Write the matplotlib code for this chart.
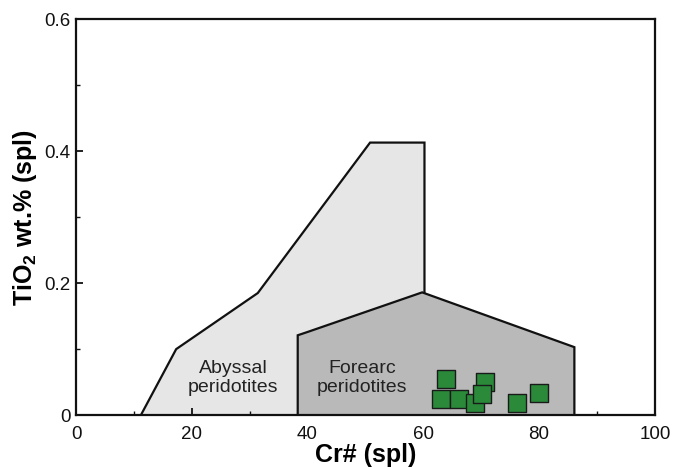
import matplotlib
matplotlib.use("Agg")
import matplotlib.pyplot as plt
from matplotlib.patches import Polygon
from matplotlib.ticker import FixedLocator

plt.rcParams['font.family'] = ['Liberation Sans', 'DejaVu Sans']
plt.rcParams['mathtext.fontset'] = 'custom'
plt.rcParams['mathtext.rm'] = 'Liberation Sans'
plt.rcParams['mathtext.bf'] = 'Liberation Sans:bold'

# Field outlines (Cr#, TiO2)
abyssal_cr = [11.2, 17.3, 31.4, 50.8, 60.2, 60.2, 60.2]
abyssal_ti = [0.0, 0.100, 0.185, 0.413, 0.413, 0.185, 0.0]
forearc_cr = [38.3, 38.3, 40.0, 59.8, 86.1, 86.1]
forearc_ti = [0.0, 0.121, 0.126, 0.186, 0.103, 0.0]

# Samples
sample_cr = [64.0, 63.0, 66.1, 68.9, 70.7, 70.1, 76.1, 80.0]
sample_ti = [0.054, 0.024, 0.024, 0.019, 0.050, 0.032, 0.019, 0.034]

# Ticks
x_ticks = [0, 20, 40, 60, 80, 100]
x_tick_labels = ['0', '20', '40', '60', '80', '100']
x_minor = [10, 30, 50, 70, 90]
y_ticks = [0, 0.2, 0.4, 0.6]
y_tick_labels = ['0', '0.2', '0.4', '0.6']
y_minor = [0.1, 0.3, 0.5]

fig = plt.figure(figsize=(6.73, 4.68), dpi=100)
ax = fig.add_axes([0.113, 0.113, 0.860, 0.846])

ax.add_patch(Polygon(list(zip(abyssal_cr, abyssal_ti)), closed=True,
                     facecolor='#e6e6e6', edgecolor='#111111', lw=1.6, zorder=1))
ax.add_patch(Polygon(list(zip(forearc_cr, forearc_ti)), closed=True,
                     facecolor='#b9b9b9', edgecolor='#111111', lw=1.6, zorder=2))

ax.scatter(sample_cr, sample_ti, marker='s', s=150, facecolor='#2a8a3a',
           edgecolor='#1a1a1a', linewidths=1.0, zorder=4)

ax.text(27.1, 0.056, 'Abyssal\nperidotites', ha='center', va='center',
        fontsize=14, color='#222222', linespacing=1.12, zorder=3)
ax.text(49.4, 0.056, 'Forearc\nperidotites', ha='center', va='center',
        fontsize=14, color='#222222', linespacing=1.12, zorder=3)

ax.set_xlim(0, 100)
ax.set_ylim(0, 0.6)
ax.set_xticks(x_ticks)
ax.set_xticklabels(x_tick_labels)
ax.xaxis.set_minor_locator(FixedLocator(x_minor))
ax.set_yticks(y_ticks)
ax.set_yticklabels(y_tick_labels)
ax.yaxis.set_minor_locator(FixedLocator(y_minor))
ax.tick_params(which='major', direction='in', length=5, width=1.3,
               labelsize=13.5, colors='#111111')
ax.tick_params(which='minor', direction='in', length=3, width=1.0, colors='#111111')
ax.tick_params(axis='x', which='major', pad=8)
ax.tick_params(axis='y', which='major', pad=4)
ax.tick_params(axis='x', which='both', top=False)
ax.tick_params(axis='y', which='both', right=False)
for s in ax.spines.values():
    s.set_linewidth(1.6)
    s.set_color('#111111')

ax.set_xlabel('Cr# (spl)', fontsize=18, fontweight='bold', labelpad=0)
ax.set_ylabel(r'TiO$_\mathbf{2}$ wt.% (spl)', fontsize=18, fontweight='bold', labelpad=4)

fig.savefig('out.png', dpi=100)
